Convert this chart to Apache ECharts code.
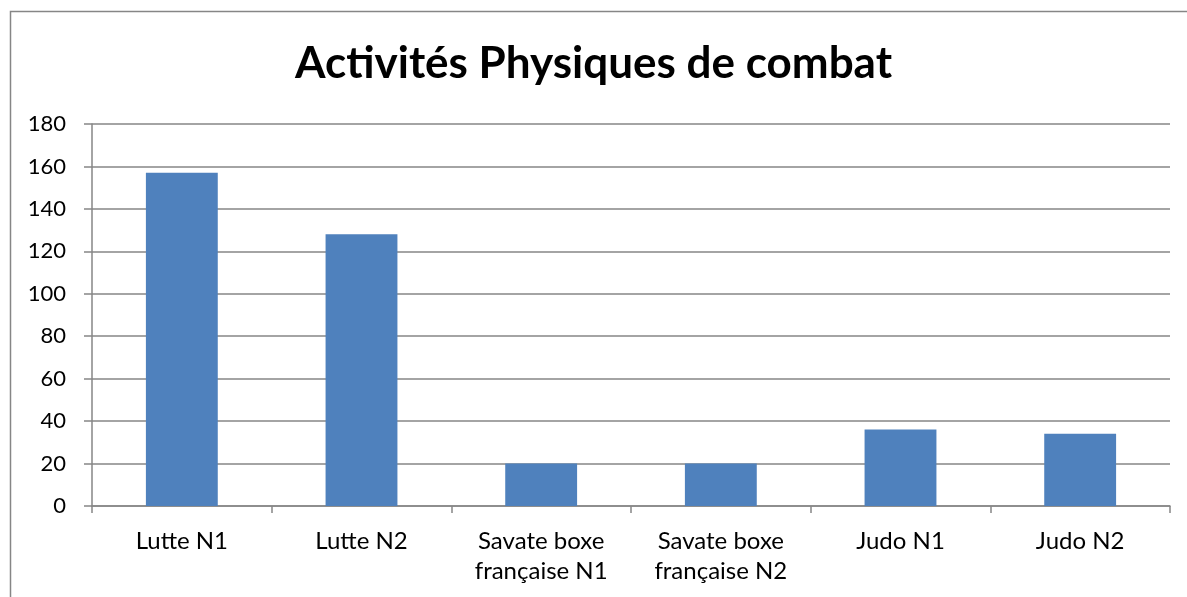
<!DOCTYPE html>
<html>
<head>
<meta charset="utf-8">
<script src="https://cdn.jsdelivr.net/npm/echarts@6/dist/echarts.min.js"></script>
<style>
  html, body { margin: 0; padding: 0; background: #fff; }
  #chart { width: 1187px; height: 597px; }
</style>
</head>
<body>
<div id="chart"></div>
<script>
// données
const categories = ['Lutte N1', 'Lutte N2', 'Savate boxe\nfrançaise N1', 'Savate boxe\nfrançaise N2', 'Judo N1', 'Judo N2']
const values = [157, 128, 20, 20, 36, 34]
const titleText = 'Activités Physiques de combat'

const gray = '#868686'
let myChart = echarts.init(document.getElementById('chart'))
myChart.setOption({
  animation: false,
  textStyle: { fontFamily: 'Lato, "Open Sans", sans-serif' },
  title: {
    text: titleText,
    left: 'center',
    top: 37,
    textStyle: { fontSize: 44, fontWeight: 'bold', color: '#000', fontFamily: 'Lato, "Open Sans", sans-serif' }
  },
  graphic: [{
    type: 'rect',
    shape: { x: 10.5, y: 11.5, width: 1300, height: 700 },
    style: { fill: 'none', stroke: gray, lineWidth: 1.5 },
    silent: true
  }],
  grid: { left: 92, right: 17, top: 124, bottom: 91 },
  xAxis: {
    type: 'category',
    data: categories,
    axisLine: { lineStyle: { color: gray, width: 1.5 } },
    axisTick: { show: true, length: 7, lineStyle: { color: gray, width: 1.5 } },
    axisLabel: { color: '#000', fontSize: 24, margin: 20, lineHeight: 30, interval: 0 }
  },
  yAxis: {
    type: 'value',
    min: 0,
    max: 180,
    interval: 20,
    axisLine: { show: true, lineStyle: { color: gray, width: 1.5 } },
    axisTick: { show: true, length: 8, lineStyle: { color: gray, width: 1.5 } },
    axisLabel: { color: '#000', fontSize: 22, margin: 26 },
    splitLine: { show: true, lineStyle: { color: gray, width: 1.5 } }
  },
  series: [{
    type: 'bar',
    data: values,
    barWidth: '40%',
    itemStyle: { color: '#4F81BD' }
  }]
})
</script>
</body>
</html>
